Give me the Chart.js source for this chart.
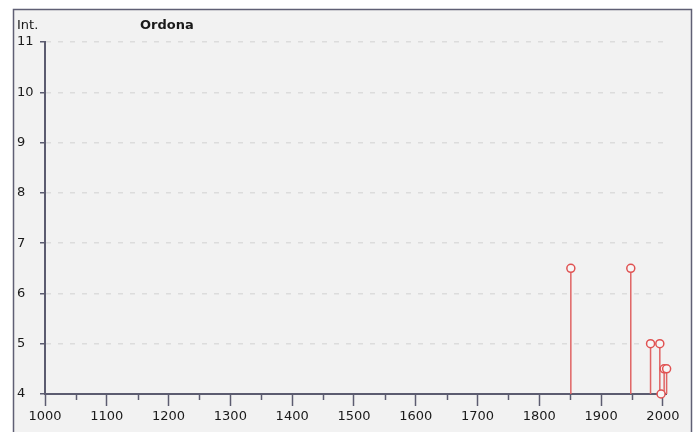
<!DOCTYPE html>
<html>
<head>
<meta charset="utf-8">
<script src="https://cdn.jsdelivr.net/npm/chart.js@4"></script>
<style>
    html, body { margin: 0; padding: 0; background: #fff; }
    #wrap { width: 699px; height: 432px; }
</style>
</head>
<body>
<div id="wrap"><canvas id="intChart" width="699" height="432"></canvas></div>
<script>
// Seismic history plot - intensity per year, stem style

const chartTitle = 'Ordona';
const yAxisLabel = 'Int.';

// events
const years = [1851, 1948, 1980, 1995, 1997, 2002, 2006];
const intensities = [6.5, 6.5, 5, 5, 4, 4.5, 4.5];

// axis ranges
const yMin = 4, yMax = 11;
const xMin = 1000, xMax = 2005;

const axisColor = '#5c5c70';
const stemColor = '#e06464';
const fontFamily = '"DejaVu Sans", Verdana, sans-serif';

(function () {
    const ctx = document.getElementById('intChart');

    const points = years.map((y, i) => ({ x: y, y: intensities[i] }));

    // panel frame + light grey background
    const panelPlugin = {
        id: 'panel',
        beforeDraw(chart) {
            const c = chart.ctx;
            c.save();
            c.fillStyle = '#ffffff';
            c.fillRect(0, 0, chart.width, chart.height);
            c.fillStyle = '#f2f2f2';
            c.fillRect(13, 9, 679, chart.height);
            c.strokeStyle = '#5f5f74';
            c.lineWidth = 1.5;
            c.strokeRect(13.5, 9.5, 678, chart.height + 10);
            c.restore();
        },
        afterDraw(chart) {
            const c = chart.ctx;
            c.save();
            c.fillStyle = '#1a1a1a';
            c.textBaseline = 'alphabetic';
            c.font = '13px ' + fontFamily;
            c.fillText(yAxisLabel, 17, 29);
            c.font = 'bold 13px ' + fontFamily;
            c.fillText(chartTitle, 140, 29);

            // minor x ticks (every 50 years), shorter than the major ones
            const xs = chart.scales.x;
            const yBase = chart.scales.y.getPixelForValue(yMin);
            c.strokeStyle = axisColor;
            c.lineWidth = 1.5;
            for (let v = xMin + 50; v < xMax; v += 100) {
                const px = Math.round(xs.getPixelForValue(v)) + 0.5;
                c.beginPath();
                c.moveTo(px, yBase);
                c.lineTo(px, yBase + 6);
                c.stroke();
            }
            c.restore();
        }
    };

    // vertical stems from each point down to the base of the y axis
    const stemPlugin = {
        id: 'stems',
        beforeDatasetsDraw(chart) {
            const c = chart.ctx;
            const meta = chart.getDatasetMeta(0);
            const yBase = chart.scales.y.getPixelForValue(yMin);
            c.save();
            c.strokeStyle = stemColor;
            c.lineWidth = 1.5;
            meta.data.forEach(pt => {
                c.beginPath();
                c.moveTo(pt.x, pt.y);
                c.lineTo(pt.x, yBase);
                c.stroke();
            });
            c.restore();
        }
    };

    new Chart(ctx, {
        type: 'scatter',
        data: {
            datasets: [{
                data: points,
                showLine: false,
                pointRadius: 4,
                pointHoverRadius: 4,
                borderWidth: 1.5,
                borderColor: '#e05252',
                backgroundColor: '#f6f6f6',
                clip: false
            }]
        },
        options: {
            responsive: false,
            animation: false,
            layout: { padding: { left: 17, right: 33, top: 42, bottom: 0 } },
            plugins: {
                legend: { display: false },
                tooltip: { enabled: false },
                title: { display: false }
            },
            scales: {
                x: {
                    type: 'linear',
                    min: xMin,
                    max: xMax,
                    afterFit: (scale) => { scale.height = 38; },
                    ticks: {
                        stepSize: 50,
                        includeBounds: false,
                        autoSkip: false,
                        maxRotation: 0,
                        padding: 3,
                        color: '#1a1a1a',
                        font: { family: fontFamily, size: 13 },
                        callback: (v) => (v % 100 === 0 ? String(v) : '')
                    },
                    grid: {
                        drawOnChartArea: false,
                        tickLength: 12,
                        tickWidth: 1.5,
                        tickColor: (c) => (c.tick && c.tick.value % 100 === 0 ? axisColor : 'rgba(0,0,0,0)')
                    },
                    border: { color: axisColor, width: 2 }
                },
                y: {
                    type: 'linear',
                    min: yMin,
                    max: yMax,
                    afterFit: (scale) => { scale.width = 28; },
                    ticks: {
                        stepSize: 1,
                        crossAlign: 'far',
                        padding: 4,
                        color: '#1a1a1a',
                        font: { family: fontFamily, size: 13 }
                    },
                    grid: {
                        color: (c) => (c.tick && c.tick.value === yMin ? 'rgba(0,0,0,0)' : '#dcdcdc'),
                        lineWidth: 1.5,
                        tickLength: 5,
                        tickWidth: 1.5,
                        tickColor: axisColor
                    },
                    border: { color: axisColor, width: 2, dash: [5, 7] }
                }
            }
        },
        plugins: [panelPlugin, stemPlugin]
    });
})();
</script>
</body>
</html>
